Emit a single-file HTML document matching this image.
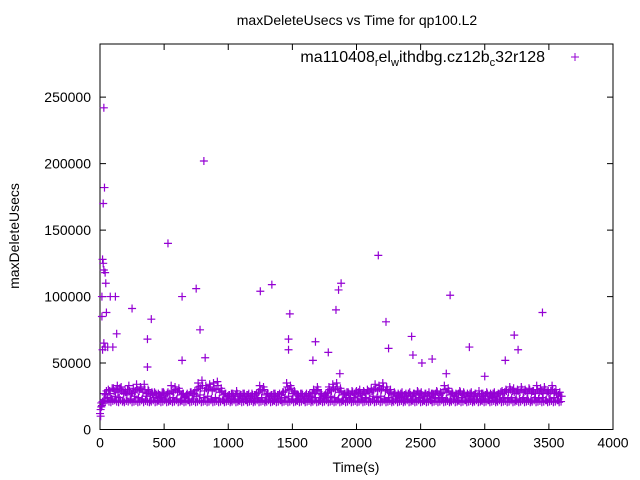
<!DOCTYPE html>
<html><head><meta charset="utf-8"><style>
html,body{margin:0;padding:0;background:#fff}
svg{display:block;font-family:"Liberation Sans",sans-serif}
</style></head><body>
<svg id="chart" width="640" height="480" viewBox="0 0 640 480">
<rect width="640" height="480" fill="#fff"/>
<text x="357" y="25" font-size="14" text-anchor="middle">maxDeleteUsecs vs Time for qp100.L2</text>
<text transform="translate(19,236) rotate(-90)" font-size="14" text-anchor="middle">maxDeleteUsecs</text>
<text x="356" y="472" font-size="14" text-anchor="middle">Time(s)</text>
<g id="axes"></g>
<g id="points"></g>
<g>
<text x="545" y="62" font-size="16" text-anchor="end">ma110408<tspan font-size="11" dy="4">r</tspan><tspan dy="-4">el</tspan><tspan font-size="11" dy="4">w</tspan><tspan dy="-4">ithdbg.cz12b</tspan><tspan font-size="11" dy="4">c</tspan><tspan dy="-4">32r128</tspan></text>
<path d="M571 57h8M575 53v8" stroke="#9400d3" stroke-width="1"/>
</g>
</svg>
<script>
const xTicks=[0,500,1000,1500,2000,2500,3000,3500,4000];
const yTicks=[0,50000,100000,150000,200000,250000];
const baseStart=0, baseStep=15;
const baseValues=[
12000,18000,22000,26000,24000,29000,23000,31000,25000,33000,24000,32000,22000,30000,26000,33000,23000,28000,25000,34000,
24000,32000,23000,34000,25000,30000,22000,28000,24000,27000,22000,26000,24000,28000,23000,27000,22000,33000,24000,32000,
23000,31000,22000,27000,24000,26000,22000,28000,23000,27000,25000,35000,26000,37000,24000,33000,25000,34000,23000,35000,
24000,36000,23000,31000,22000,27000,23000,26000,22000,27000,23000,29000,22000,26000,23000,27000,22000,26000,23000,27000,
22000,26000,23000,33000,24000,32000,22000,27000,23000,26000,22000,27000,23000,26000,22000,28000,24000,35000,25000,33000,
23000,29000,22000,26000,23000,27000,22000,26000,23000,27000,22000,30000,24000,32000,22000,27000,23000,26000,24000,32000,
25000,34000,24000,35000,23000,31000,22000,27000,24000,28000,23000,29000,24000,28000,25000,30000,23000,29000,24000,30000,
23000,31000,25000,34000,24000,33000,25000,35000,23000,32000,24000,30000,22000,28000,23000,27000,24000,28000,22000,27000,
23000,28000,22000,27000,23000,29000,24000,28000,22000,27000,23000,28000,22000,27000,24000,29000,23000,28000,24000,33000,
23000,31000,22000,28000,23000,27000,22000,29000,24000,28000,22000,27000,23000,28000,22000,27000,23000,29000,22000,27000,
23000,28000,22000,27000,24000,28000,22000,27000,23000,29000,24000,30000,23000,32000,24000,31000,22000,30000,23000,32000,
24000,30000,23000,31000,22000,29000,24000,33000,23000,31000,24000,32000,22000,29000,23000,33000,24000,30000,22000,28000,
25000];
const midStart=5;
const midValues=[
15000,21000,27000,29000,30000,27000,31000,29000,30000,28000,31000,29000,27000,28000,30000,29000,27000,31000,29000,30000,
29000,31000,28000,30000,27000,29000,26000,27000,28000,26000,27000,25000,28000,27000,26000,28000,27000,29000,28000,30000,
28000,29000,26000,27000,25000,27000,26000,28000,27000,29000,30000,32000,31000,33000,29000,31000,30000,32000,29000,31000,
30000,33000,28000,29000,26000,27000,25000,26000,27000,25000,26000,27000,25000,26000,27000,25000,26000,27000,25000,26000,
26000,27000,28000,30000,29000,30000,26000,27000,25000,26000,27000,25000,26000,27000,26000,28000,29000,32000,30000,31000,
27000,28000,26000,25000,27000,26000,25000,27000,26000,25000,27000,28000,29000,30000,27000,26000,25000,27000,28000,30000,
29000,31000,30000,32000,28000,29000,26000,27000,28000,27000,26000,28000,27000,29000,28000,27000,26000,28000,27000,29000,
28000,29000,30000,31000,29000,31000,30000,32000,29000,30000,28000,27000,26000,27000,25000,26000,27000,25000,26000,25000,
27000,26000,25000,27000,26000,28000,27000,26000,25000,27000,26000,25000,27000,26000,27000,28000,26000,27000,28000,30000,
28000,29000,26000,27000,25000,26000,27000,28000,26000,27000,25000,26000,27000,25000,26000,27000,25000,26000,27000,25000,
26000,27000,25000,26000,27000,25000,26000,27000,28000,27000,28000,29000,28000,30000,29000,28000,27000,29000,28000,30000,
28000,29000,27000,30000,28000,29000,27000,30000,28000,29000,27000,30000,28000,27000,29000,30000,28000,27000,26000,25000];
const lowStart=10;
const lowValues=[
17000,20000,21000,22000,21000,20500,21500,22000,21000,20500,22000,21000,20500,21500,21000,22000,20500,21000,21500,20500,
21000,22000,20500,21500,21000,20500,21000,22000,20500,21000,21500,20500,21000,22000,20500,21000,21500,20500,21000,22000,
20500,21000,21500,20500,21000,22000,20500,21000,21500,20500,21000,22000,20500,21000,21500,20500,21000,22000,20500,21000,
21500,20500,21000,22000,20500,21000,21500,20500,21000,22000,20500,21000,21500,20500,21000,22000,20500,21000,21500,20500,
21000,22000,20500,21000,21500,20500,21000,22000,20500,21000,21500,20500,21000,22000,20500,21000,21500,20500,21000,22000,
20500,21000,21500,20500,21000,22000,20500,21000,21500,20500,21000,22000,20500,21000,21500,20500,21000,22000,20500,21000,
21500,20500,21000,22000,20500,21000,21500,20500,21000,22000,20500,21000,21500,20500,21000,22000,20500,21000,21500,20500,
21000,22000,20500,21000,21500,20500,21000,22000,20500,21000,21500,20500,21000,22000,20500,21000,21500,20500,21000,22000,
20500,21000,21500,20500,21000,22000,20500,21000,21500,20500,21000,22000,20500,21000,21500,20500,21000,22000,20500,21000,
21500,20500,21000,22000,20500,21000,21500,20500,21000,22000,20500,21000,21500,20500,21000,22000,20500,21000,21500,20500,
21000,22000,20500,21000,21500,20500,21000,22000,20500,21000,21500,20500,21000,22000,20500,21000,21500,20500,21000,22000,
20500,21000,21500,20500,21000,22000,20500,21000,21500,20500,21000,22000,20500,21000,21500,20500,21000,22000,20500,21000];
const outlierTimes=[5,5,10,15,15,20,25,30,35,25,30,40,45,50,20,30,40,60,80,100,120,130,250,370,400,370,530,640,640,750,780,810,820,1250,1340,1470,1480,1470,1680,1660,1780,1840,1860,1880,1870,2170,2230,2250,2430,2440,2510,2590,2700,2730,2880,3000,3160,3230,3260,3450];
const outlierValues=[10000,15000,20000,85000,100000,128000,170000,242000,182000,125000,120000,118000,110000,88000,60000,65000,62000,62000,100000,62000,100000,72000,91000,68000,83000,47000,140000,100000,52000,106000,75000,202000,54000,104000,109000,68000,87000,60000,66000,52000,58000,90000,105000,110000,42000,131000,81000,61000,70000,56000,50000,53000,42000,101000,62000,40000,52000,71000,60000,88000];

const L=100,R=613,T=44,B=429.5,XMAX=4000,YMAX=290000;
const sx=v=>L+(v/XMAX)*(R-L);
const sy=v=>B-(v/YMAX)*(B-T);
const NS="http://www.w3.org/2000/svg";
const axes=document.getElementById('axes');
const pts=document.getElementById('points');
function mk(tag,attrs,parent){const e=document.createElementNS(NS,tag);for(const k in attrs)e.setAttribute(k,attrs[k]);parent.appendChild(e);return e;}
const frame=mk('rect',{x:L,y:T,width:R-L,height:B-T,fill:'none',stroke:'#000','stroke-width':1},axes);


xTicks.forEach(t=>{
  const x=sx(t);
  const p=mk('path',{d:`M${x} ${B}v-6M${x} ${T}v6`,stroke:'#000','stroke-width':1},axes);
  
  
  const tx=mk('text',{x:x,y:B+18,'font-size':14,'text-anchor':'middle'},axes);
  tx.textContent=t;
  
  
});
yTicks.forEach(t=>{
  const y=sy(t);
  const p=mk('path',{d:`M${L} ${y}h6M${R} ${y}h-6`,stroke:'#000','stroke-width':1},axes);
  
  
  const tx=mk('text',{x:L-9,y:y+5,'font-size':14,'text-anchor':'end'},axes);
  tx.textContent=t;
  
  
});
let d='';
const plus=(t,v)=>{const x=sx(t),y=sy(v);d+=`M${x-4} ${y}h8M${x} ${y-4}v8`;};
baseValues.forEach((v,i)=>plus(baseStart+i*baseStep,v));
midValues.forEach((v,i)=>plus(midStart+i*baseStep,v));
lowValues.forEach((v,i)=>plus(lowStart+i*baseStep,v));
outlierValues.forEach((v,i)=>plus(outlierTimes[i],v));
const path=mk('path',{d:d,stroke:'#9400d3','stroke-width':1.2,fill:'none'},pts);


</script>
</body></html>
